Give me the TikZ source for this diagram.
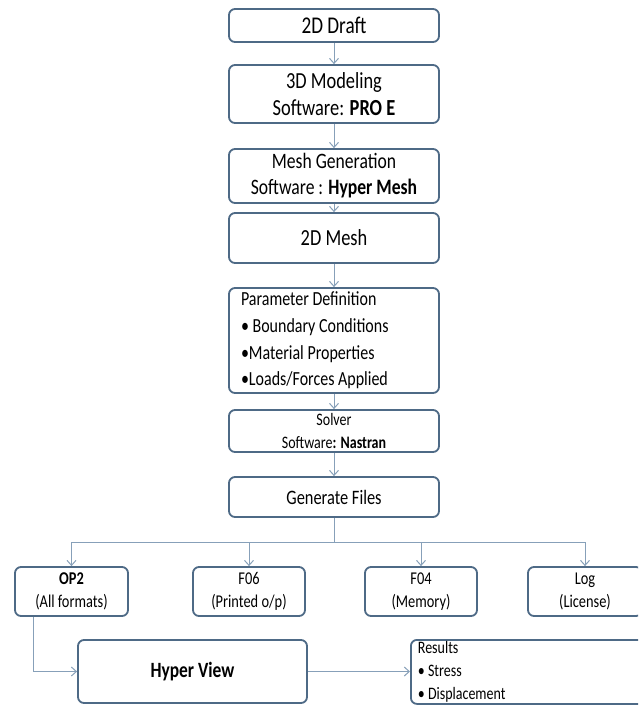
\documentclass[tikz,border=0pt]{standalone}
\usepackage{fontspec}
\setmainfont{Carlito}[FakeStretch=0.8]
\usetikzlibrary{arrows.meta}
\definecolor{boxline}{RGB}{78,106,134}
\definecolor{connc}{RGB}{135,160,185}
\begin{document}
\begin{tikzpicture}[x=1pt,y=-1pt,
  box/.style={draw=boxline, line width=1.8pt, rounded corners=6pt, fill=white, inner sep=0pt, align=center, font=\fontsize{23}{27}\selectfont},
  sbox/.style={box, minimum width=112pt, minimum height=49pt, font=\fontsize{18}{23}\selectfont},
  conn/.style={draw=connc, line width=1pt, -{Straight Barb[length=5pt,width=9pt]}},
  plain/.style={draw=connc, line width=1pt}]
\useasboundingbox (0,0) rectangle (638,705);
\fill[white] (0,0) rectangle (638,705);
\clip (0,0) rectangle (638,705);

\node[box, minimum width=210pt, minimum height=33pt, font=\fontsize{24}{27}\selectfont] (draft) at (334,25.5) {2D Draft};
\node[box, minimum width=210pt, minimum height=58pt] (model) at (334,94) {3D Modeling\\Software: \textbf{PRO E}};
\node[box, minimum width=210pt, minimum height=54pt, font=\fontsize{22}{26}\selectfont] (meshgen) at (334,176) {Mesh Generation\\Software : \textbf{Hyper Mesh}};
\node[box, minimum width=210pt, minimum height=50pt] (mesh) at (334,238) {2D Mesh};
\node[box, minimum width=210pt, minimum height=105pt, align=flush left, text width=186pt, font=\fontsize{20}{26.7}\selectfont] (param) at (334,340.5) {Parameter Definition\\• Boundary Conditions\\•Material Properties\\•Loads/Forces Applied};
\node[box, minimum width=210pt, minimum height=42pt, font=\fontsize{17.5}{23}\selectfont] (solver) at (334,431) {Solver\\Software\textbf{: Nastran}};
\node[box, minimum width=210pt, minimum height=40pt, font=\fontsize{20.5}{24}\selectfont] (gen) at (334,497) {Generate Files};

\node[sbox, minimum width=113pt] (op2) at (71.5,591.5) {\textbf{OP2}\\(All formats)};
\node[sbox] (f06) at (249,591.5) {F06\\(Printed o/p)};
\node[sbox] (f04) at (421,591.5) {F04\\(Memory)};
\node[sbox, minimum width=114pt] (log) at (585,591.5) {Log\\(License)};

\node[box, minimum width=229pt, minimum height=63pt, font=\bfseries\fontsize{21.8}{24}\selectfont] (hv) at (192.5,671.5) {Hyper View};
\node[box, anchor=north west, minimum width=250pt, minimum height=64pt, inner xsep=7pt, text width=236pt, align=flush left, font=\fontsize{17.5}{23}\selectfont] (res) at (410,639) {Results\\• Stress\\• Displacement};

\draw[conn] (draft) -- (model);
\draw[conn] (model) -- (meshgen);
\draw[conn] (meshgen) -- (mesh);
\draw[conn] (mesh) -- (param);
\draw[conn] (param) -- (solver);
\draw[conn] (solver) -- (gen);

\coordinate (bar) at (334,542);
\draw[plain] (gen.south) -- (bar);
\draw[plain] (op2.north |- bar) -- (log.north |- bar);
\draw[conn] (op2.north |- bar) -- (op2.north);
\draw[conn] (f06.north |- bar) -- (f06.north);
\draw[conn] (f04.north |- bar) -- (f04.north);
\draw[conn] (log.north |- bar) -- (log.north);

\draw[conn] ([xshift=-38.5pt]op2.south) |- (hv.west);
\draw[conn] (hv.east) -- (hv.east -| res.west);
\end{tikzpicture}
\end{document}
